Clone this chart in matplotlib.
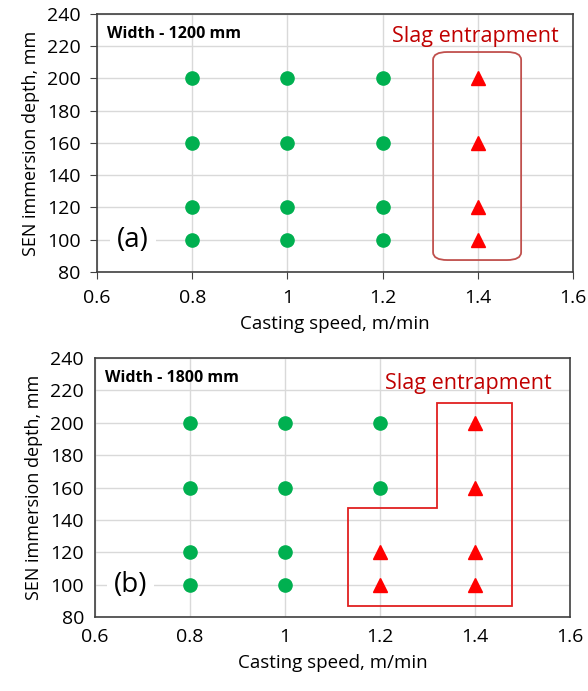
import matplotlib
matplotlib.use("Agg")
import matplotlib.pyplot as plt
from matplotlib.patches import FancyBboxPatch, Polygon

plt.rcParams['font.family'] = ['Open Sans', 'DejaVu Sans']

# Panel (a): width 1200 mm
a_ok_speed = [0.8, 0.8, 0.8, 0.8, 1.0, 1.0, 1.0, 1.0, 1.2, 1.2, 1.2, 1.2]
a_ok_depth = [100, 120, 160, 200, 100, 120, 160, 200, 100, 120, 160, 200]
a_slag_speed = [1.4, 1.4, 1.4, 1.4]
a_slag_depth = [100, 120, 160, 200]

# Panel (b): width 1800 mm
b_ok_speed = [0.8, 0.8, 0.8, 0.8, 1.0, 1.0, 1.0, 1.0, 1.2, 1.2]
b_ok_depth = [100, 120, 160, 200, 100, 120, 160, 200, 160, 200]
b_slag_speed = [1.2, 1.2, 1.4, 1.4, 1.4, 1.4]
b_slag_depth = [100, 120, 100, 120, 160, 200]

x_ticks = [0.6, 0.8, 1.0, 1.2, 1.4, 1.6]
x_ticklabels = ["0.6", "0.8", "1", "1.2", "1.4", "1.6"]
y_ticks = [80, 100, 120, 140, 160, 180, 200, 220, 240]

GREEN = "#00B050"
RED = "#FF0000"
DARKRED = "#C00000"

fig = plt.figure(figsize=(5.88, 6.91), dpi=100)
ax_a = fig.add_axes([0.165, 0.6064, 0.8095, 0.3734])
ax_b = fig.add_axes([0.1616, 0.1071, 0.8078, 0.3748])


def style(ax, ticks_visible):
    ax.set_xlim(0.6, 1.6)
    ax.set_ylim(80, 240)
    ax.set_xticks(x_ticks)
    ax.set_xticklabels(x_ticklabels)
    ax.set_yticks(y_ticks)
    ax.grid(True, color="#D9D9D9", linewidth=1.0, zorder=0)
    ax.set_axisbelow(True)
    ax.tick_params(labelsize=14, colors="#000000", length=5 if ticks_visible else 0,
                   direction="out", pad=7 if ticks_visible else 8, color="#404040")
    for s in ax.spines.values():
        s.set_color("#404040")
        s.set_linewidth(1.2)
    ax.set_xlabel("Casting speed, m/min", fontsize=13.5, labelpad=6)
    ax.set_ylabel("SEN immersion depth, mm", fontsize=13, labelpad=5)


style(ax_a, True)
style(ax_b, False)

for ax, gs, gd, rs, rd, lab, w in [
    (ax_a, a_ok_speed, a_ok_depth, a_slag_speed, a_slag_depth, "(a)", "Width - 1200 mm"),
    (ax_b, b_ok_speed, b_ok_depth, b_slag_speed, b_slag_depth, "(b)", "Width - 1800 mm"),
]:
    ax.plot(gs, gd, "o", color=GREEN, markersize=9.5, linestyle="none", zorder=3)
    ax.plot(rs, rd, "^", color=RED, markersize=9.5, linestyle="none", zorder=3)
    ax.text(0.02, 0.955, w, transform=ax.transAxes, fontsize=11.5, fontweight="bold",
            va="top", ha="left")
    ax.text(0.675, 100, lab, fontsize=20, ha="center", va="center", zorder=4,
            bbox=dict(facecolor="white", edgecolor="none", pad=5))

ax_a.text(1.395, 226, "Slag entrapment", color=DARKRED, fontsize=15.5, ha="center", va="center")
ax_b.text(1.385, 224, "Slag entrapment", color=DARKRED, fontsize=15.5, ha="center", va="center")

box = FancyBboxPatch((1.306, 87.4), 1.491 - 1.306, 216.4 - 87.4,
                     boxstyle="round,pad=0,rounding_size=0.03", mutation_aspect=1 / 0.0062,
                     facecolor="none", edgecolor="#C0504D", linewidth=1.3, zorder=2)
ax_a.add_patch(box)

poly = Polygon([(1.133, 86.8), (1.478, 86.8), (1.478, 212.2), (1.32, 212.2),
                (1.32, 147.3), (1.133, 147.3)], closed=True, facecolor="none",
               edgecolor="#E02020", linewidth=1.3, zorder=2)
ax_b.add_patch(poly)

fig.savefig("out.png", dpi=100)
